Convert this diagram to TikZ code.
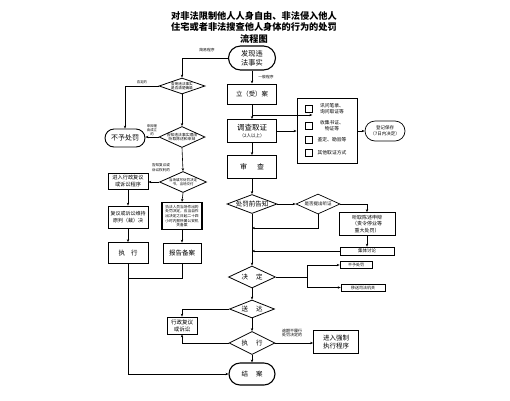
\documentclass[tikz,border=0pt]{standalone}
\usepackage{fontspec}
\setmainfont{Noto Sans CJK SC}
\usetikzlibrary{shapes.geometric,shapes.misc,arrows.meta}
\newcommand{\fz}[2]{\fontsize{#1}{#2}\selectfont}
\tikzset{
  arr/.style={-{Stealth[length=3pt,width=2.4pt]},line width=0.6pt},
  ln/.style={line width=0.6pt},
  box/.style={draw,rectangle,line width=0.8pt,inner sep=0pt,align=center},
  sbox/.style={draw,rectangle,line width=0.6pt,inner sep=0pt,align=center},
  pill/.style={draw,rounded rectangle,line width=0.9pt,inner sep=0pt,align=center},
  dia/.style={draw,diamond,line width=0.8pt,inner sep=0pt},
  txt/.style={inner sep=0pt,align=center},
  chk/.style={draw,rectangle,line width=0.7pt,minimum size=7pt,inner sep=0pt},
}
\begin{document}
\begin{tikzpicture}[x=1pt,y=-1pt]
\useasboundingbox (0,0) rectangle (510,400);
\fill[white] (0,0) rectangle (510,400);
% title
\node[txt,font=\fz{9.2}{11.5}\bfseries] (title) at (254,27) {对非法限制他人人身自由、非法侵入他人\\住宅或者非法搜查他人身体的行为的处罚\\流程图};
% left (simple procedure)
\node[pill,line width=1.1pt,minimum width=47pt,minimum height=24pt,font=\fz{7.2}{8.6}] (start) at (252,58) {发现违\\法事实};
\node[txt,font=\fz{3.8}{4.5}] (lj) at (207,50) {简易程序};
\node[dia,minimum width=46pt,minimum height=16pt] (d1) at (182,86) {};
\node[txt,font=\fz{3.6}{4.4}] (d1t) at (d1) {查明违法事实\\是否清楚确凿};
\node[txt,font=\fz{3.4}{4.2}] (l1) at (142,82) {否定的};
\node[pill,minimum width=40pt,minimum height=18pt,font=\fz{7}{8}] (np) at (125,138) {不予处罚};
\node[dia,minimum width=46pt,minimum height=21pt] (d2) at (182,137) {};
\node[txt,font=\fz{3.8}{4.6}] (d2t) at (d2) {告知违法事实理由\\听取陈述和申辩};
\node[txt,font=\fz{3.4}{4}] (l2) at (152,130) {申辩理\\由成立\\的};
\node[dia,minimum width=47pt,minimum height=21pt] (d3) at (183,182) {};
\node[txt,font=\fz{3.5}{4.3}] (d3t) at (d3) {当场填写处罚决定\\书，当场交付};
\node[txt,font=\fz{3.6}{4.4}] (l3) at (161,167.5) {告知复议或\\诉讼权利的};
\node[box,line width=0.7pt,minimum width=40pt,minimum height=16pt,font=\fz{5.2}{6.4}] (L1) at (128,181) {进入行政复议\\或诉讼程序};
\node[box,line width=0.7pt,minimum width=40pt,minimum height=22pt,font=\fz{5}{6.4}] (L2) at (128,217) {复议或诉讼维持\\原判（裁）决};
\node[box,line width=0.7pt,minimum width=40pt,minimum height=21pt,font=\fz{6.5}{8}] (L3) at (128,253) {执\hspace{6pt}行};
\node[box,line width=1.3pt,minimum width=40pt,minimum height=27pt,font=\fz{3.7}{4.6}] (M1) at (182,216) {执法人员当场作出的\\处罚决定，应当自作\\出决定之日起二十四\\小时内报所属公安机\\关备案};
\node[box,line width=0.7pt,minimum width=38pt,minimum height=20pt,font=\fz{6.5}{8}] (M2) at (182,253) {报告备案};
% right (general procedure)
\node[box,line width=1pt,minimum width=49pt,minimum height=20pt,font=\fz{6.4}{8}] (la) at (252,94) {立（受）案};
\node[txt,font=\fz{3.8}{4.5}] (lg) at (266,77) {一般程序};
\node[box,line width=1pt,minimum width=49pt,minimum height=23pt,font=\fz{4.5}{7.5}] (dc) at (252,131) {{\fz{7.5}{7.5}调查取证}\\{\fz{4.5}{5}（2人以上）}};
\node[box,line width=1pt,minimum width=49pt,minimum height=23pt,font=\fz{7}{8}] (sc) at (252,167) {审\hspace{10pt}查};
\node[box,line width=0.8pt,minimum width=60pt,minimum height=65pt] (grp) at (327,131) {};
\node[chk] (c1) at (308.5,109) {};
\node[chk] (c2) at (308.5,126) {};
\node[chk] (c3) at (308.5,139.5) {};
\node[chk] (c4) at (308.5,152.5) {};
\node[txt,font=\fz{4.8}{5.8}] (t1) at (332,109) {讯问笔录、\\询问取证等};
\node[txt,font=\fz{4.8}{5.8}] (t2) at (332,126) {收集书证、\\物证等};
\node[txt,font=\fz{4.8}{5.8}] (t3) at (332,139.5) {鉴定、勘验等};
\node[txt,font=\fz{4.8}{5.8}] (t4) at (332,152.5) {其他取证方式};
\node[pill,line width=0.7pt,minimum width=40pt,minimum height=20pt,font=\fz{4.5}{5.8}] (dj) at (385,131) {登记保存\\（7日内决定）};
\node[dia,minimum width=50pt,minimum height=19pt] (qg) at (252,204) {};
\node[txt,font=\fz{6.5}{8}] (qgt) at (qg) {处罚前告知};
\node[dia,line width=0.7pt,minimum width=44pt,minimum height=20pt] (hd) at (318,204) {};
\node[txt,font=\fz{4.5}{5.5}] (hdt) at (hd) {是否提出听证};
\node[box,line width=0.7pt,minimum width=56pt,minimum height=23pt,font=\fz{5}{6.4}] (tz) at (367,224) {听取陈述申辩\\（责令停业等\\重大处罚）};
\node[sbox,minimum width=54pt,minimum height=8pt,font=\fz{4.5}{5}] (jt) at (367,251) {集体讨论};
\node[dia,minimum width=47pt,minimum height=22pt] (jd) at (252,277) {};
\node[txt,font=\fz{6.5}{8}] (jdt) at (jd) {决\hspace{8pt}定};
\node[sbox,minimum width=32pt,minimum height=7pt,font=\fz{4}{4.5}] (bc) at (356,265) {不予处罚};
\node[sbox,minimum width=44pt,minimum height=7pt,font=\fz{4}{4.5}] (ys) at (363,287.5) {移送司法机关};
\node[dia,minimum width=45pt,minimum height=18pt] (sd) at (252,309) {};
\node[txt,font=\fz{6.5}{8}] (sdt) at (sd) {送\hspace{8pt}达};
\node[box,line width=0.7pt,minimum width=30pt,minimum height=17pt,font=\fz{5.5}{6.8}] (fy) at (182,325.5) {行政复议\\或诉讼};
\node[dia,minimum width=46pt,minimum height=23pt] (zx) at (252,343) {};
\node[txt,font=\fz{6.5}{8}] (zxt) at (zx) {执\hspace{8pt}行};
\node[box,line width=0.7pt,minimum width=45pt,minimum height=23pt,font=\fz{6.5}{8.2}] (qz) at (336,342) {进入强制\\执行程序};
\node[txt,font=\fz{4}{4.8}] (l4) at (292,333) {逾期不履行\\处罚决定的};
\node[pill,line width=1.1pt,minimum width=46pt,minimum height=22pt,font=\fz{6.5}{8}] (ja) at (252,374) {结\hspace{8pt}案};
% junctions
\coordinate (j1) at (128,278);
\coordinate (jc) at (252,115);
\coordinate (m1) at (252,228);
\coordinate (bj) at (307,277);
% connectors left
\draw[arr] (start.west) -| (d1.north);
\draw[arr] (d1.west) -| (np.north);
\draw[arr] (d1.south) -- (d2.north);
\draw[arr] (d2.west) -- (d2.west -| np.east);
\draw[arr] (d2.south) -- (d3.north);
\draw[arr] (d3.west) -- (d3.west -| L1.east);
\draw[arr] (d3.south) -- (M1.north);
\draw[arr] (L1.south) -- (L2.north);
\draw[arr] (L2.south) -- (L3.north);
\draw[arr] (M1.south) -- (M2.north);
\draw[ln] (M2.south) |- (j1);
\draw[arr] (L3.south) |- (ja.west);
% connectors main
\draw[arr] (start.south) -- (la.north);
\draw[arr] (la.south) -- (dc.north);
\draw[arr] (dc.south) -- (sc.north);
\draw[arr] (sc.south) -- (qg.north);
\draw[arr] (qg.south) -- (jd.north);
\draw[arr] (jd.south) -- (sd.north);
\draw[arr] (sd.south) -- (zx.north);
\draw[arr] (zx.south) -- (ja.north);
% connectors right
\draw[arr] (jc) -- (jc -| c1.east);
\draw[arr] (dc.east) -- (dc.east -| grp.west);
\draw[arr] (grp.east) -- (grp.east -| dj.west);
\draw[arr] (qg.east) -- (hd.west);
\draw[arr] (hd.east) -| (tz.north);
\draw[arr] (hd.south) |- (m1);
\draw[arr] (tz.south) -- (jt.north);
\draw[arr] (jt.west) -- (jt.west -| jd.north);
\draw[ln] (jd.east) -- (bj);
\draw[arr] (bj) |- (bc.west);
\draw[arr] (bj) |- (ys.west);
\draw[arr] (sd.west) -| (fy.north);
\draw[arr] (zx.west) -| (fy.south);
\draw[arr] (zx.east) -- (zx.east -| qz.west);
\end{tikzpicture}
\end{document}
